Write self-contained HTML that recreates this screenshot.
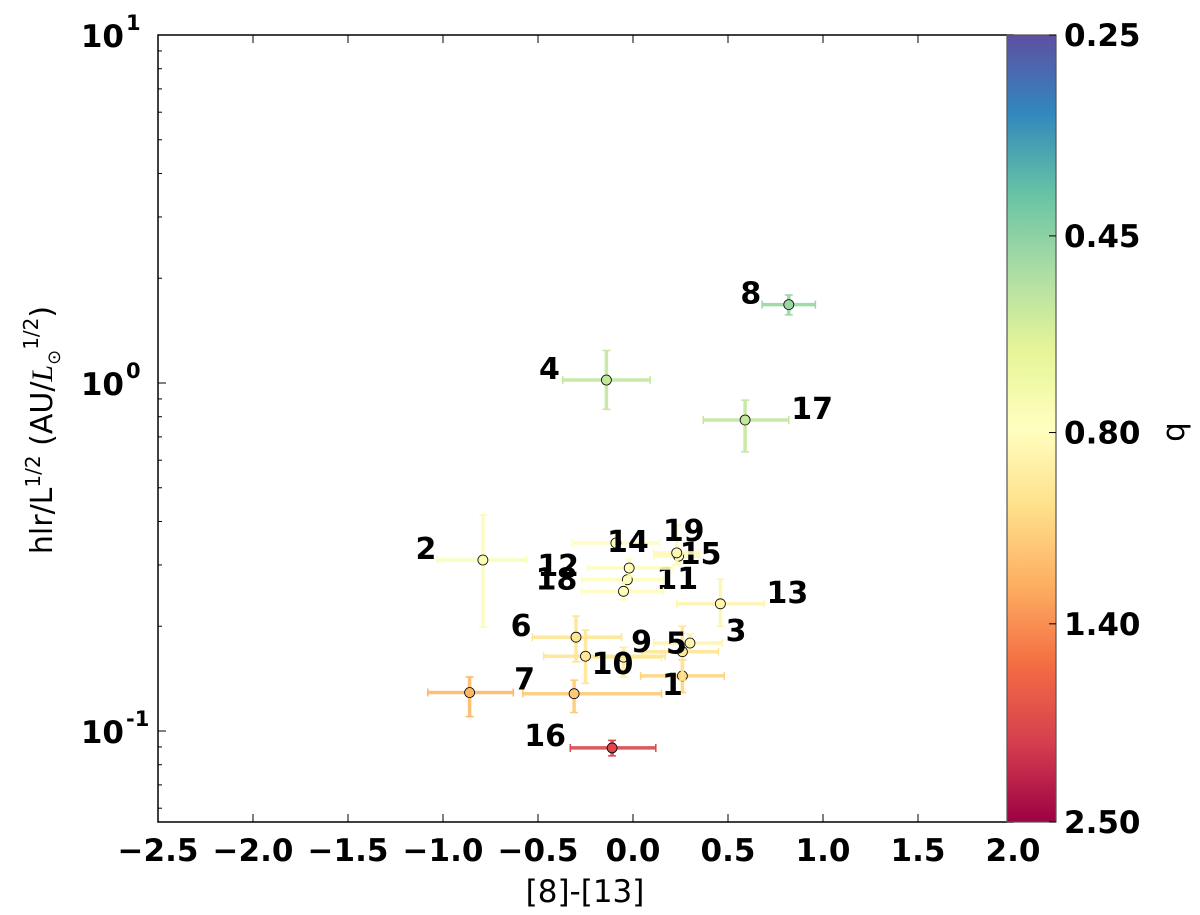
<!DOCTYPE html>
<html><head><meta charset="utf-8"><style>
html,body{margin:0;padding:0;background:#fff;}
svg{display:block;font-family:"DejaVu Sans","Liberation Sans",sans-serif;}
.tk{font-size:31px;font-weight:bold;fill:#000;}
.lab{font-size:30px;font-weight:bold;fill:#000;}
</style></head><body>
<svg id="chart" width="1200" height="915" viewBox="0 0 1200 915" xmlns="http://www.w3.org/2000/svg">
<defs>
<linearGradient id="cmap" x1="0" y1="0" x2="0" y2="1">
<stop offset="0" stop-color="#5e4fa2"/><stop offset="0.1" stop-color="#3288bd"/><stop offset="0.2" stop-color="#66c2a5"/><stop offset="0.3" stop-color="#abdda4"/><stop offset="0.4" stop-color="#e6f598"/><stop offset="0.5" stop-color="#ffffbf"/><stop offset="0.6" stop-color="#fee08b"/><stop offset="0.7" stop-color="#fdae61"/><stop offset="0.8" stop-color="#f46d43"/><stop offset="0.9" stop-color="#d53e4f"/><stop offset="1" stop-color="#9e0142"/>
</linearGradient>
</defs>
<g id="axes"></g>
<g id="marks"></g>
<g id="cbar"></g>
</svg>
<script>
const labels = ["1","2","3","4","5","6","7","8","9","10","11","12","13","14","15","16","17","18","19",""];
const xVals  = [0.26,-0.79,0.30,-0.14,0.26,-0.30,-0.86,0.82,-0.05,-0.25,-0.03,-0.02,0.46,-0.09,0.24,-0.11,0.59,-0.05,0.23,-0.31];
const xLow   = [0.04,-1.03,0.11,-0.37,0.05,-0.53,-1.08,0.68,-0.25,-0.47,-0.27,-0.24,0.23,-0.32,0.11,-0.33,0.37,-0.27,0.11,-0.58];
const xHigh  = [0.48,-0.56,0.47,0.09,0.45,-0.06,-0.63,0.96,0.15,0.17,0.16,0.21,0.69,0.14,0.35,0.12,0.82,0.16,0.35,0.15];
const yVals  = [0.144,0.310,0.179,1.02,0.169,0.186,0.129,1.68,0.163,0.164,0.272,0.294,0.232,0.347,0.318,0.0894,0.783,0.252,0.325,0.128];
const yLow   = [0.129,0.199,0.170,0.84,0.140,0.158,0.110,1.57,0.143,0.137,0.255,0.277,0.200,0.330,0.305,0.0848,0.634,0.238,0.300,0.113];
const yHigh  = [0.160,0.418,0.190,1.24,0.200,0.214,0.143,1.79,0.174,0.195,0.290,0.312,0.273,0.370,0.333,0.094,0.893,0.268,0.391,0.140];
const qVals  = [1.05,0.75,0.85,0.55,0.95,0.95,1.2,0.47,0.9,0.95,0.8,0.8,0.85,0.78,0.82,1.9,0.55,0.8,0.82,1.1];
const labelDx = [-10,-57,46,-57,-6,-55,55,-38,18,27,50,-71,67,12,22,-67,67,-67,7,0];
const labelDy = [8,-12,-13,-12,-9,-12,-14,-12,-16,7,-2,-3,-12,-2,-3,-13,-12,-13,-23,0];
const xTicks = [-2.5,-2.0,-1.5,-1.0,-0.5,0.0,0.5,1.0,1.5,2.0];
const xTickLabels = ["\u22122.5","\u22122.0","\u22121.5","\u22121.0","\u22120.5","0.0","0.5","1.0","1.5","2.0"];
const yTickExps = [1,0,-1];
const cTicks = [0.25,0.45,0.80,1.40,2.50];
const cTickLabels = ["0.25","0.45","0.80","1.40","2.50"];

const NS="http://www.w3.org/2000/svg";
const L=158,R=1013,T=35,B=822;
const xMin=-2.5,xMax=2.0;
const yZero=383, dec=348;
function X(v){return L+(v-xMin)/(xMax-xMin)*(R-L);}
function Y(v){return yZero-Math.log10(v)*dec;}
const stops=["#5e4fa2","#3288bd","#66c2a5","#abdda4","#e6f598","#ffffbf","#fee08b","#fdae61","#f46d43","#d53e4f","#9e0142"];
function hex(h){return [1,3,5].map(i=>parseInt(h.substr(i,2),16));}
function qFrac(q){return (Math.log10(q)-Math.log10(0.25))/(Math.log10(2.5)-Math.log10(0.25));}
function qColor(q){let f=Math.max(0,Math.min(1,qFrac(q)))*10;let i=Math.min(9,Math.floor(f));let t=f-i;
 const a=hex(stops[i]),b=hex(stops[i+1]);return "rgb("+a.map((c,k)=>Math.round(c+(b[k]-c)*t)).join(",")+")";}
function mk(tag,attrs,parent,text){const e=document.createElementNS(NS,tag);for(const k in attrs)e.setAttribute(k,attrs[k]);if(text!==undefined)e.textContent=text;parent.appendChild(e);return e;}

const axes=document.getElementById('axes'),marks=document.getElementById('marks'),cbar=document.getElementById('cbar');
let frame=mk('rect',{x:L,y:T,width:R-L,height:B-T,fill:'#fff',stroke:'#000','stroke-width':1.5},axes);


xTicks.forEach((v,i)=>{
 const x=X(v);
 mk('line',{x1:x,y1:B,x2:x,y2:B-8,stroke:'#000','stroke-width':1},axes);
 mk('line',{x1:x,y1:T,x2:x,y2:T+8,stroke:'#000','stroke-width':1},axes);
 const t=mk('text',{x:x,y:861,'text-anchor':'middle',class:'tk'},axes,xTickLabels[i]);
 
 
});
yTickExps.forEach(e=>{
 const y=Y(Math.pow(10,e));
 mk('line',{x1:L,y1:y,x2:L+8,y2:y,stroke:'#000','stroke-width':1},axes);
 const t=mk('text',{x:124,y:y+12,'text-anchor':'end',class:'tk'},axes,'10');
 
 
 mk('text',{x:126,y:y-5,'font-size':21,'font-weight':'bold'},axes,String(e));
});
for(let e=-2;e<1;e++){for(let m=2;m<10;m++){const v=m*Math.pow(10,e);const y=Y(v);if(y<T||y>B)continue;
 mk('line',{x1:L,y1:y,x2:L+4,y2:y,stroke:'#000','stroke-width':1},axes);}}
let xl=mk('text',{x:585,y:902,'text-anchor':'middle','font-size':31},axes,'[8]-[13]');


let yl=mk('text',{x:0,y:0,'text-anchor':'middle','font-size':30,transform:'translate(52,430) rotate(-90)'},axes);


yl.innerHTML='hlr/L<tspan dy="-12" font-size="20">1/2</tspan><tspan dy="12"> (AU/</tspan><tspan font-style="italic" font-family="Liberation Serif,serif">L</tspan><tspan dy="8" font-size="18">\u2299</tspan><tspan dy="-22" font-size="20">1/2</tspan><tspan dy="14">)</tspan>';

for(let i=0;i<xVals.length;i++){
 const g=mk('g',{},marks);
 
 
 const c=qColor(qVals[i]),x=X(xVals[i]),y=Y(yVals[i]);
 const x1=X(xLow[i]),x2=X(xHigh[i]),y1=Y(yLow[i]),y2=Y(yHigh[i]);
 mk('line',{x1:x1,y1:y,x2:x2,y2:y,stroke:c,'stroke-width':3.5,opacity:0.9},g);
 mk('line',{x1:x,y1:y1,x2:x,y2:y2,stroke:c,'stroke-width':3.5,opacity:0.9},g);
 [x1,x2].forEach(xx=>mk('line',{x1:xx,y1:y-4,x2:xx,y2:y+4,stroke:c,'stroke-width':1.5},g));
 [y1,y2].forEach(yy=>mk('line',{x1:x-4,y1:yy,x2:x+4,y2:yy,stroke:c,'stroke-width':1.5},g));
 mk('circle',{cx:x,cy:y,r:5,fill:c,stroke:'#000','stroke-width':0.8},g);
 if(labels[i]){
  const t=mk('text',{x:x+labelDx[i],y:y+labelDy[i]+11,'text-anchor':'middle',class:'lab'},marks,labels[i]);
  
  
 }
}

const CX=1007,CW=49;
let cb=mk('rect',{x:CX,y:T,width:CW,height:B-T,fill:'url(#cmap)',stroke:'#555','stroke-width':1.2},cbar);


cTicks.forEach((q,i)=>{
 const y=T+qFrac(q)*(B-T);
 mk('line',{x1:CX+CW-7,y1:y,x2:CX+CW,y2:y,stroke:'#000','stroke-width':1},cbar);
 const t=mk('text',{x:1064,y:y+11,class:'tk'},cbar,cTickLabels[i]);
 
 
});
let ql=mk('text',{x:0,y:0,'text-anchor':'middle','font-size':31,transform:'translate(1184,432) rotate(-90)'},cbar,'q');


</script>
</body></html>
